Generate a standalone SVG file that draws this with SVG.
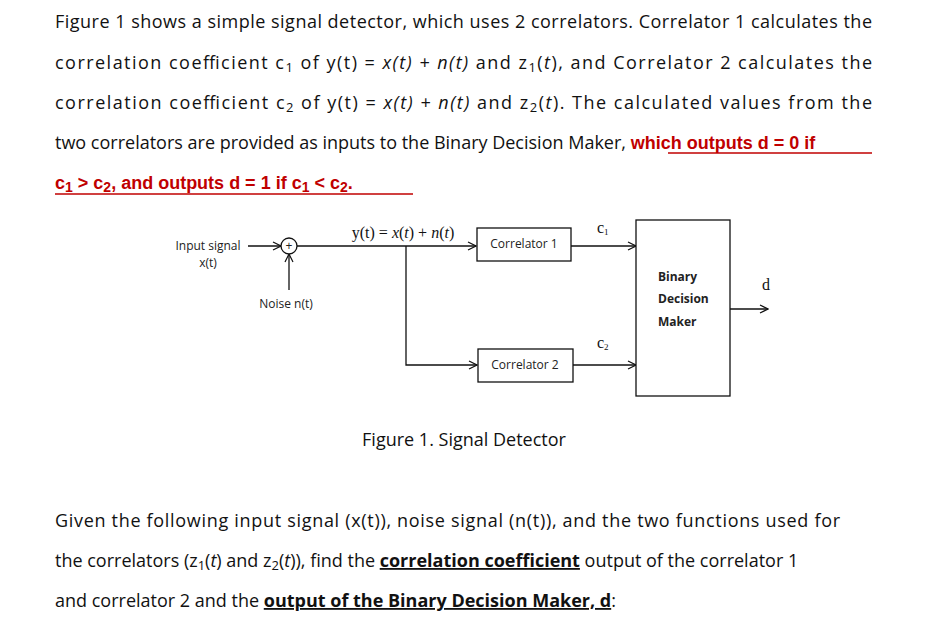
<svg xmlns="http://www.w3.org/2000/svg" width="926" height="625" viewBox="0 0 926 625">
<style>
.p{font-family:"Open Sans","Liberation Sans",sans-serif;font-size:18px;fill:#111}
.r{font-family:"Liberation Sans",sans-serif;font-size:18px;font-weight:bold;fill:#c00000}
.ru{stroke:#c00000;stroke-width:1.6}
.b{font-weight:bold;text-decoration:underline}
.s{font-family:"Open Sans","Liberation Sans",sans-serif;font-size:12px;fill:#222}
.m{font-family:"Liberation Serif",serif;font-size:16px;fill:#111}
.ln{stroke:#111;stroke-width:1.3;fill:none}
.bx{stroke:#111;stroke-width:1.3;fill:#fff}
</style>
<defs><marker id="a" markerWidth="10" markerHeight="10" refX="9" refY="5" orient="auto" markerUnits="userSpaceOnUse"><path d="M1,1 L9,5 L1,9" fill="none" stroke="#111" stroke-width="1.2"/></marker></defs>
<rect width="926" height="625" fill="#fff"/>
<g id="text">
<text class="p" x="55" y="28" textLength="817">Figure 1 shows a simple signal detector, which uses 2 correlators. Correlator 1 calculates the</text>
<text class="p" x="55" y="69" textLength="817">correlation coefficient c<tspan font-size="13" dy="3">1</tspan><tspan dy="-3"> of y(t) = </tspan><tspan font-style="italic">x(t) + n(t)</tspan> and z<tspan font-size="13" dy="3">1</tspan><tspan dy="-3">(</tspan><tspan font-style="italic">t</tspan>), and Correlator 2 calculates the</text>
<text class="p" x="55" y="109" textLength="817">correlation coefficient c<tspan font-size="13" dy="3">2</tspan><tspan dy="-3"> of y(t) = </tspan><tspan font-style="italic">x(t) + n(t)</tspan> and z<tspan font-size="13" dy="3">2</tspan><tspan dy="-3">(</tspan><tspan font-style="italic">t</tspan>). The calculated values from the</text>
<text class="p" x="55" y="149">two correlators are provided as inputs to the Binary Decision Maker, <tspan class="r" font-size="20">which outputs d = 0 if</tspan></text>
<line class="ru" x1="668" y1="153" x2="872" y2="153"/>
<text class="r" x="55" y="189" font-size="20">c<tspan font-size="14" dy="3">1</tspan><tspan dy="-3"> &gt; c</tspan><tspan font-size="14" dy="3">2</tspan><tspan dy="-3">, and outputs d = 1 if c</tspan><tspan font-size="14" dy="3">1</tspan><tspan dy="-3"> &lt; c</tspan><tspan font-size="14" dy="3">2</tspan><tspan dy="-3">.</tspan></text>
<line class="ru" x1="55" y1="194" x2="413" y2="194"/>
<text class="p" x="464" y="446" text-anchor="middle">Figure 1. Signal Detector</text>
<text class="p" x="55" y="527" textLength="785">Given the following input signal (x(t)), noise signal (n(t)), and the two functions used for</text>
<text class="p" x="55" y="567">the correlators (z<tspan font-size="13" dy="3">1</tspan><tspan dy="-3">(</tspan><tspan font-style="italic">t</tspan>) and z<tspan font-size="13" dy="3">2</tspan><tspan dy="-3">(</tspan><tspan font-style="italic">t</tspan>)), find the <tspan class="b">correlation coefficient</tspan> output of the correlator 1</text>
<text class="p" x="55" y="607">and correlator 2 and the <tspan class="b">output of the Binary Decision Maker, d</tspan>:</text>
</g>
<g id="connectors">
<path class="ln" d="M248,246 H281" marker-end="url(#a)"/>
<path class="ln" d="M289,290 V254" marker-end="url(#a)"/>
<path class="ln" d="M297,246 H476" marker-end="url(#a)"/>
<path class="ln" d="M406,246 V365 H477" marker-end="url(#a)"/>
<path class="ln" d="M571,246 H636" marker-end="url(#a)"/>
<path class="ln" d="M573,365 H636" marker-end="url(#a)"/>
<path class="ln" d="M730,309 H768" marker-end="url(#a)"/>
</g>
<g id="input"><text class="s" x="208" y="250" text-anchor="middle">Input signal</text><text class="s" x="208" y="267" text-anchor="middle" font-size="15">x(t)</text></g>
<g id="sum"><circle class="bx" cx="289" cy="246" r="8"/><text class="s" x="289" y="250" text-anchor="middle" font-size="11">+</text></g>
<g id="noise"><text class="s" x="286" y="308" text-anchor="middle">Noise n(t)</text></g>
<g id="ylabel"><text class="m" x="403" y="238" text-anchor="middle">y(t) = <tspan font-style="italic">x</tspan>(<tspan font-style="italic">t</tspan>) + <tspan font-style="italic">n</tspan>(<tspan font-style="italic">t</tspan>)</text></g>
<g id="corr1"><rect class="bx" x="477" y="228" width="94" height="33"/><text class="s" x="524" y="248" text-anchor="middle">Correlator 1</text></g>
<g id="corr2"><rect class="bx" x="478" y="349" width="95" height="33"/><text class="s" x="525" y="369" text-anchor="middle">Correlator 2</text></g>
<g id="c1"><text class="m" x="597" y="233" font-size="13">c<tspan font-size="9" dy="2">1</tspan></text></g>
<g id="c2"><text class="m" x="597" y="348" font-size="13">c<tspan font-size="9" dy="2">2</tspan></text></g>
<g id="bdm"><rect class="bx" x="636" y="220" width="94" height="176"/><text class="s" x="658" y="281" font-weight="bold">Binary</text><text class="s" x="658" y="303" font-weight="bold">Decision</text><text class="s" x="658" y="326" font-weight="bold">Maker</text></g>
<g id="d"><text class="m" x="766" y="290" text-anchor="middle">d</text></g>
</svg>
